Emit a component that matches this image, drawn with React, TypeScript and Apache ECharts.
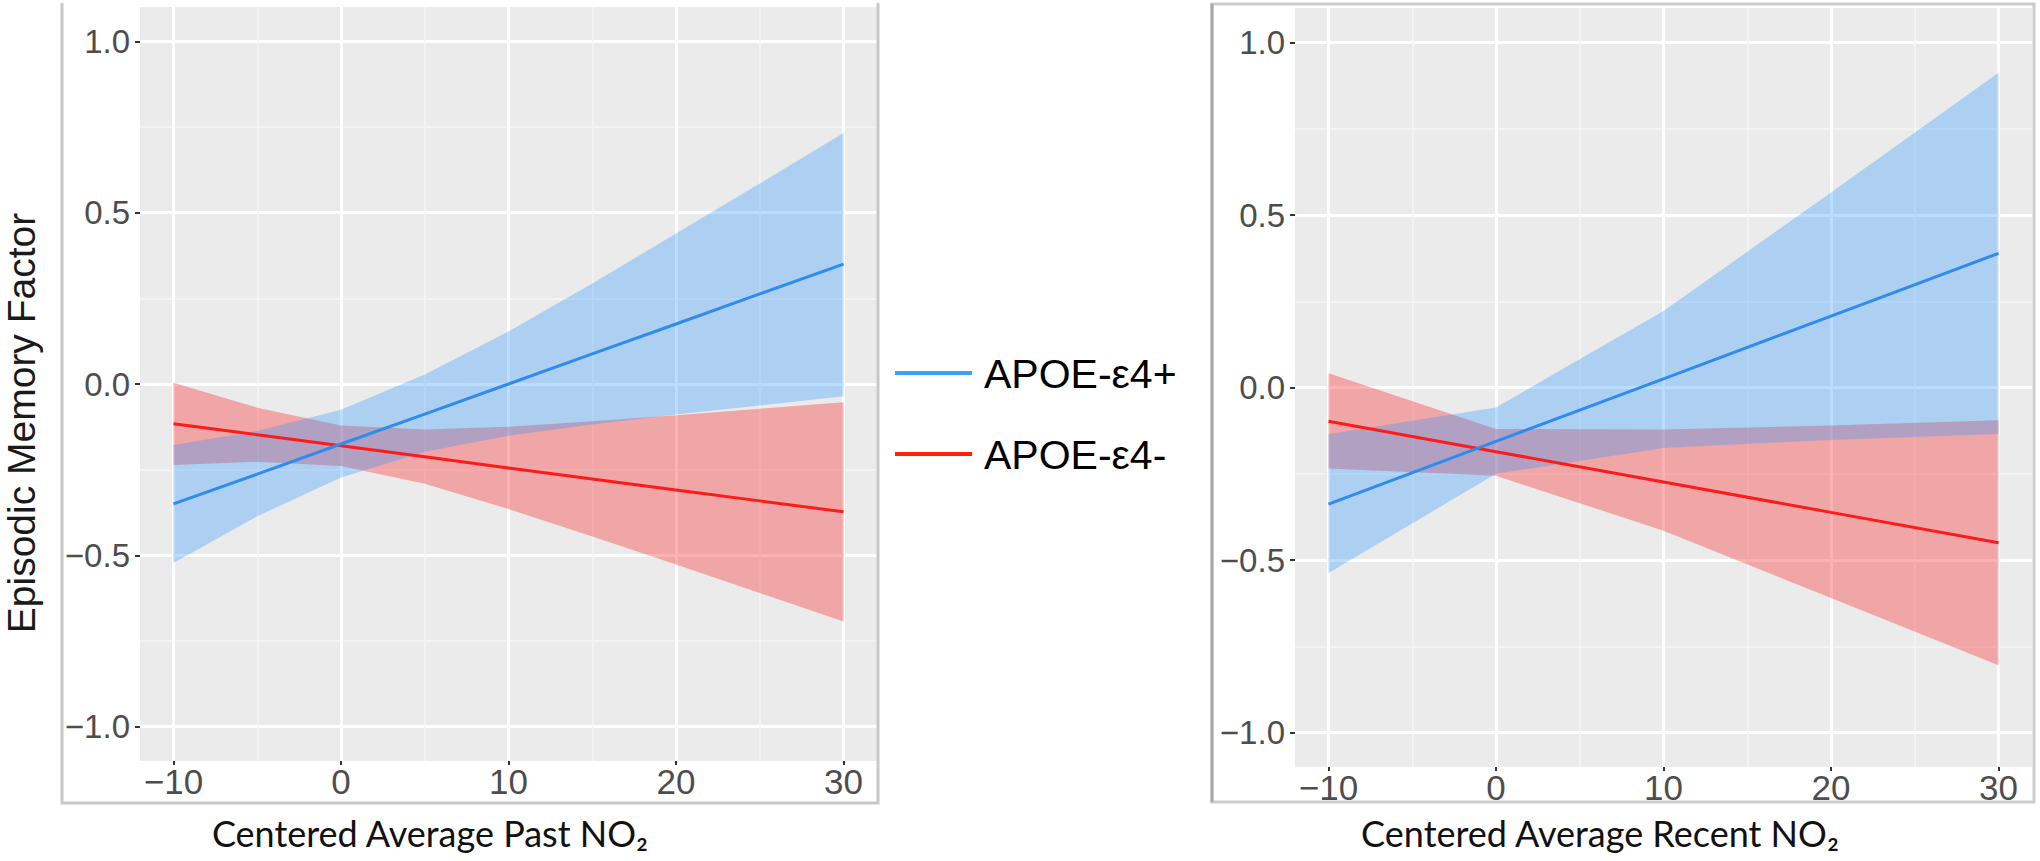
import React, { useEffect, useRef } from "react";
import * as echarts from "echarts";

// ---------- data ----------
const groupNames = ["APOE-ε4+", "APOE-ε4-"];

// Left panel: Centered Average Past NO2
const pastX = [-10, -5, 0, 5, 10, 15, 20, 25, 30];
const pastPlusFit = [-0.35, -0.263, -0.175, -0.088, 0.0, 0.088, 0.175, 0.263, 0.35];
const pastPlusUpper = [-0.178, -0.137, -0.075, 0.028, 0.153, 0.293, 0.439, 0.585, 0.732];
const pastPlusLower = [-0.522, -0.386, -0.273, -0.198, -0.151, -0.118, -0.089, -0.063, -0.036];
const pastMinusFit = [-0.116, -0.148, -0.18, -0.212, -0.245, -0.277, -0.309, -0.341, -0.373];
const pastMinusUpper = [0.004, -0.069, -0.121, -0.133, -0.125, -0.109, -0.091, -0.072, -0.053];
const pastMinusLower = [-0.236, -0.227, -0.239, -0.291, -0.365, -0.445, -0.527, -0.61, -0.693];

// Right panel: Centered Average Recent NO2
const recentX = [-10, 0, 10, 20, 30];
const recentPlusFit = [-0.338, -0.156, 0.025, 0.207, 0.389];
const recentPlusUpper = [-0.135, -0.058, 0.222, 0.565, 0.912];
const recentPlusLower = [-0.538, -0.25, -0.175, -0.152, -0.135];
const recentMinusFit = [-0.098, -0.186, -0.274, -0.362, -0.45];
const recentMinusUpper = [0.041, -0.12, -0.122, -0.11, -0.095];
const recentMinusLower = [-0.235, -0.256, -0.415, -0.61, -0.805];

// axes
const xTicks = [-10, 0, 10, 20, 30];
const xMinorTicks = [-5, 5, 15, 25];
const yTicks = [-1.0, -0.5, 0.0, 0.5, 1.0];
const yMinorTicks = [-0.75, -0.25, 0.25, 0.75];
const xTitles = ["Centered Average Past NO₂", "Centered Average Recent NO₂"];
const yTitle = "Episodic Memory Factor";

// ---------- styles ----------
const BLUE_LINE = "#2F8CEB";
const RED_LINE = "#FF1A1A";
const BLUE_FILL = "rgba(44,148,255,0.32)";
const RED_FILL = "rgba(248,62,62,0.40)";
const BLUE_LEGEND = "#33A3FF";
const RED_LEGEND = "#FF2200";
const SANS = "'Liberation Sans', Arial, sans-serif";
const TITLE_FONT = "Lato, 'Open Sans', sans-serif";

const minus = (s: string) => s.replace("-", "\u2212");

function bandSeries(axisIdx: number, xs: number[], lo: number[], hi: number[], fill: string, name: string, z: number) {
  return {
    type: "custom",
    name,
    xAxisIndex: axisIdx,
    yAxisIndex: axisIdx,
    silent: true,
    z,
    data: xs.map((x, i) => [x, lo[i], hi[i]]),
    encode: { x: 0, y: [1, 2] },
    renderItem: (params: any, api: any) => {
      if (params.dataIndex !== 0) return null;
      const pts: number[][] = [];
      for (let i = 0; i < xs.length; i++) pts.push(api.coord([xs[i], hi[i]]));
      for (let i = xs.length - 1; i >= 0; i--) pts.push(api.coord([xs[i], lo[i]]));
      return { type: "polygon", shape: { points: pts }, style: { fill } };
    },
  };
}

function lineSeries(axisIdx: number, xs: number[], ys: number[], color: string, name: string, z: number) {
  return {
    type: "line",
    name,
    xAxisIndex: axisIdx,
    yAxisIndex: axisIdx,
    data: xs.map((x, i) => [x, ys[i]]),
    showSymbol: false,
    symbol: "none",
    silent: true,
    z,
    lineStyle: { color, width: 3 },
    itemStyle: { color },
  };
}

function xAxes(g: number) {
  return [
    {
      type: "value",
      gridIndex: g,
      min: -12,
      max: 32,
      position: "bottom",
      axisLine: { show: false, onZero: false },
      axisTick: { show: true, length: 4, customValues: xTicks, lineStyle: { color: "#333333", width: 2 } },
      axisLabel: {
        customValues: xTicks,
        fontSize: 35,
        fontFamily: SANS,
        color: "#4D4D4D",
        margin: 3,
        formatter: (v: number) => minus(String(v)),
      },
      splitLine: { show: true, lineStyle: { color: "#FFFFFF", width: 3 } },
    },
    {
      type: "value",
      gridIndex: g,
      min: -12,
      max: 32,
      position: "bottom",
      axisLine: { show: false, onZero: false },
      axisTick: { show: false, customValues: xMinorTicks },
      axisLabel: { show: false, customValues: xMinorTicks },
      splitLine: { show: true, lineStyle: { color: "#F6F6F6", width: 1.5 } },
    },
  ];
}

function yAxes(g: number) {
  return [
    {
      type: "value",
      gridIndex: g,
      min: -1.1,
      max: 1.1,
      position: "left",
      axisLine: { show: false, onZero: false },
      axisTick: { show: true, length: 5, customValues: yTicks, lineStyle: { color: "#333333", width: 2 } },
      axisLabel: {
        customValues: yTicks,
        fontSize: 33,
        fontFamily: SANS,
        color: "#4D4D4D",
        margin: 10,
        formatter: (v: number) => minus(v.toFixed(1)),
      },
      splitLine: { show: true, lineStyle: { color: "#FFFFFF", width: 3 } },
    },
    {
      type: "value",
      gridIndex: g,
      min: -1.1,
      max: 1.1,
      position: "left",
      axisLine: { show: false, onZero: false },
      axisTick: { show: false, customValues: yMinorTicks },
      axisLabel: { show: false, customValues: yMinorTicks },
      splitLine: { show: true, lineStyle: { color: "#F6F6F6", width: 1.5 } },
    },
  ];
}

export default function App() {
  const ref = useRef<HTMLDivElement>(null);

  useEffect(() => {
    if (!ref.current) return;
    const chart = echarts.init(ref.current, undefined, { renderer: "svg" });

    const option: any = {
      animation: false,
      backgroundColor: "#FFFFFF",
      textStyle: { fontFamily: SANS },
      grid: [
        { left: 140, top: 7, width: 737, height: 754, show: true, backgroundColor: "#EBEBEB", borderWidth: 0 },
        { left: 1295, top: 8, width: 737, height: 759, show: true, backgroundColor: "#EBEBEB", borderWidth: 0 },
      ],
      xAxis: [...xAxes(0), ...xAxes(1)],
      yAxis: [...yAxes(0), ...yAxes(1)],
      series: [
        bandSeries(0, pastX, pastMinusLower, pastMinusUpper, RED_FILL, groupNames[1] + " band", 2),
        bandSeries(0, pastX, pastPlusLower, pastPlusUpper, BLUE_FILL, groupNames[0] + " band", 3),
        lineSeries(0, pastX, pastMinusFit, RED_LINE, groupNames[1], 4),
        lineSeries(0, pastX, pastPlusFit, BLUE_LINE, groupNames[0], 5),
        bandSeries(2, recentX, recentMinusLower, recentMinusUpper, RED_FILL, groupNames[1] + " band", 2),
        bandSeries(2, recentX, recentPlusLower, recentPlusUpper, BLUE_FILL, groupNames[0] + " band", 3),
        lineSeries(2, recentX, recentMinusFit, RED_LINE, groupNames[1], 4),
        lineSeries(2, recentX, recentPlusFit, BLUE_LINE, groupNames[0], 5),
      ],
      graphic: [
        // left panel border
        {
          type: "polyline",
          silent: true,
          shape: { points: [[62, 3], [62, 803], [878, 803], [878, 3]] },
          style: { stroke: "#C8C8C8", lineWidth: 3, fill: null },
          z: 10,
        },
        // right panel border
        {
          type: "rect",
          silent: true,
          shape: { x: 1212, y: 4, width: 822, height: 798 },
          style: { stroke: "#CDCDCD", lineWidth: 3, fill: null },
          z: 10,
        },
        {
          type: "line",
          silent: true,
          shape: { x1: 1212, y1: 4, x2: 1212, y2: 802 },
          style: { stroke: "#A8A8A8", lineWidth: 3 },
          z: 11,
        },
        // legend
        {
          type: "line",
          silent: true,
          shape: { x1: 895, y1: 373, x2: 972, y2: 373 },
          style: { stroke: BLUE_LEGEND, lineWidth: 4 },
          z: 10,
        },
        {
          type: "text",
          silent: true,
          x: 984,
          y: 374,
          style: { text: groupNames[0], fontSize: 41, fontFamily: SANS, fill: "#000000", textVerticalAlign: "middle", textAlign: "left" },
          z: 10,
        },
        {
          type: "line",
          silent: true,
          shape: { x1: 895, y1: 454, x2: 972, y2: 454 },
          style: { stroke: RED_LEGEND, lineWidth: 4 },
          z: 10,
        },
        {
          type: "text",
          silent: true,
          x: 984,
          y: 455,
          style: { text: groupNames[1], fontSize: 41, fontFamily: SANS, fill: "#000000", textVerticalAlign: "middle", textAlign: "left" },
          z: 10,
        },
        // y axis title
        {
          type: "text",
          silent: true,
          x: 21,
          y: 423,
          rotation: Math.PI / 2,
          style: { text: yTitle, fontSize: 39, fontFamily: SANS, fill: "#1A1A1A", textAlign: "center", textVerticalAlign: "middle" },
          z: 10,
        },
        // x axis titles
        {
          type: "text",
          silent: true,
          x: 430,
          y: 833,
          style: { text: xTitles[0], fontSize: 36, fontFamily: TITLE_FONT, fill: "#111111", textAlign: "center", textVerticalAlign: "middle" },
          z: 10,
        },
        {
          type: "text",
          silent: true,
          x: 1600,
          y: 833,
          style: { text: xTitles[1], fontSize: 36, fontFamily: TITLE_FONT, fill: "#111111", textAlign: "center", textVerticalAlign: "middle" },
          z: 10,
        },
      ],
    };

    chart.setOption(option);
    return () => chart.dispose();
  }, []);

  return (
    <div
      ref={ref}
      style={{ position: "absolute", left: 0, top: 0, width: 2040, height: 861, background: "#FFFFFF" }}
    />
  );
}
